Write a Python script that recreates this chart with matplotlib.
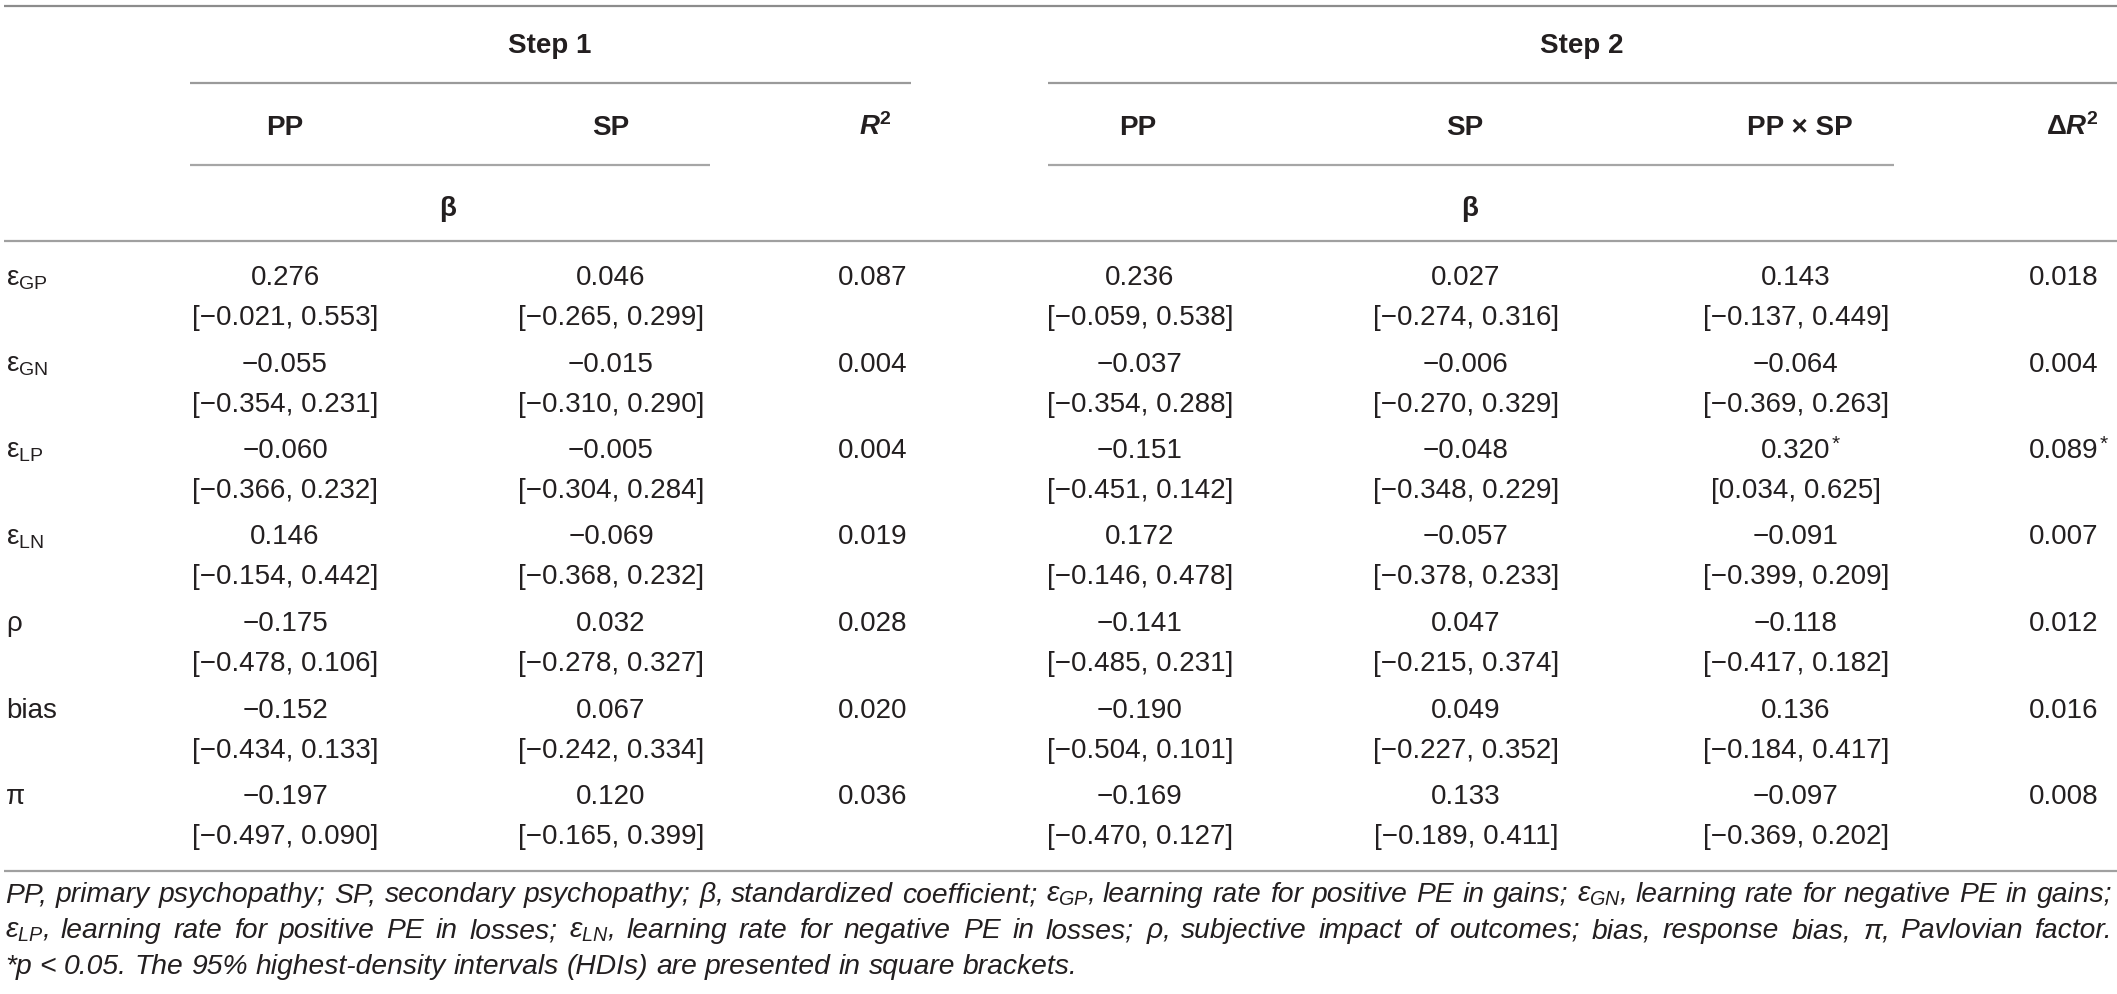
import matplotlib
matplotlib.use("Agg")
import matplotlib.pyplot as plt

plt.rcParams['font.family'] = ['Liberation Sans', 'DejaVu Sans']
plt.rcParams['mathtext.fontset'] = 'custom'
plt.rcParams['mathtext.rm'] = 'Liberation Sans'
plt.rcParams['mathtext.it'] = 'Liberation Sans:italic'
plt.rcParams['mathtext.bf'] = 'Liberation Sans:bold'
plt.rcParams['mathtext.bfit'] = 'Liberation Sans:bold:italic'
plt.rcParams['mathtext.sf'] = 'Liberation Sans'

# ---------------- data ----------------
row_labels = [r'$\mathrm{ε}_{\mathrm{GP}}$', r'$\mathrm{ε}_{\mathrm{GN}}$', r'$\mathrm{ε}_{\mathrm{LP}}$',
              r'$\mathrm{ε}_{\mathrm{LN}}$', 'ρ', 'bias', 'π']

step1_pp_beta = [0.276, -0.055, -0.060, 0.146, -0.175, -0.152, -0.197]
step1_pp_lo = [-0.021, -0.354, -0.366, -0.154, -0.478, -0.434, -0.497]
step1_pp_hi = [0.553, 0.231, 0.232, 0.442, 0.106, 0.133, 0.090]
step1_sp_beta = [0.046, -0.015, -0.005, -0.069, 0.032, 0.067, 0.120]
step1_sp_lo = [-0.265, -0.310, -0.304, -0.368, -0.278, -0.242, -0.165]
step1_sp_hi = [0.299, 0.290, 0.284, 0.232, 0.327, 0.334, 0.399]
step1_r2 = [0.087, 0.004, 0.004, 0.019, 0.028, 0.020, 0.036]

step2_pp_beta = [0.236, -0.037, -0.151, 0.172, -0.141, -0.190, -0.169]
step2_pp_lo = [-0.059, -0.354, -0.451, -0.146, -0.485, -0.504, -0.470]
step2_pp_hi = [0.538, 0.288, 0.142, 0.478, 0.231, 0.101, 0.127]
step2_sp_beta = [0.027, -0.006, -0.048, -0.057, 0.047, 0.049, 0.133]
step2_sp_lo = [-0.274, -0.270, -0.348, -0.378, -0.215, -0.227, -0.189]
step2_sp_hi = [0.316, 0.329, 0.229, 0.233, 0.374, 0.352, 0.411]
step2_int_beta = [0.143, -0.064, 0.320, -0.091, -0.118, 0.136, -0.097]
step2_int_lo = [-0.137, -0.369, 0.034, -0.399, -0.417, -0.184, -0.369]
step2_int_hi = [0.449, 0.263, 0.625, 0.209, 0.182, 0.417, 0.202]
step2_dr2 = [0.018, 0.004, 0.089, 0.007, 0.012, 0.016, 0.008]
step2_int_sig = [False, False, True, False, False, False, False]
step2_dr2_sig = [False, False, True, False, False, False, False]

step_titles = ['Step 1', 'Step 2']
step1_headers = ['PP', 'SP', r'$\mathbfit{R}^{\mathbf{2}}$']
step2_headers = ['PP', 'SP', 'PP × SP', r'$\mathbf{Δ}\mathbfit{R}^{\mathbf{2}}$']

footnote_lines = [
    ['PP,', 'primary', 'psychopathy;', 'SP,', 'secondary', 'psychopathy;', r'$β$,', 'standardized', 'coefficient;',
     r'$ε_{GP}$,', 'learning', 'rate', 'for', 'positive', 'PE', 'in', 'gains;', r'$ε_{GN}$,', 'learning', 'rate',
     'for', 'negative', 'PE', 'in', 'gains;'],
    [r'$ε_{LP}$,', 'learning', 'rate', 'for', 'positive', 'PE', 'in', 'losses;', r'$ε_{LN}$,', 'learning', 'rate',
     'for', 'negative', 'PE', 'in', 'losses;', r'$ρ$,', 'subjective', 'impact', 'of', 'outcomes;', 'bias,',
     'response', 'bias,', r'$π$,', 'Pavlovian', 'factor.'],
    ['*p', '<', '0.05.', 'The', '95%', 'highest-density', 'intervals', '(HDIs)', 'are', 'presented', 'in',
     'square', 'brackets.'],
]

# ---------------- layout ----------------
W, H = 2117, 994
fig = plt.figure(figsize=(W / 100, H / 100), dpi=100)
ax = fig.add_axes([0, 0, 1, 1])
ax.set_xlim(0, W)
ax.set_ylim(H, 0)
ax.axis('off')

TXT = '#231f20'
LINE = '#9a9a9a'
FS = 20

col_x = [285, 611, 873, 1140, 1466, 1796, 2064]
row0_val = 285
row_pitch = 86.5
bracket_dy = 40


def fmt(v):
    return f"{v:.3f}".replace('-', '\u2212')


def hline(y, x0, x1, color=LINE, lw=1.6):
    ax.plot([x0, x1], [y, y], color=color, lw=lw, solid_capstyle='butt')


hline(6, 4, W, color='#8c8c8c')
hline(83, 190, 911)
hline(83, 1048, W)
hline(165, 190, 710, color='#a6a6a6')
hline(165, 1048, 1894, color='#a6a6a6')
hline(241, 4, W, color='#a0a0a0')
hline(871, 4, W, color='#a0a0a0')

# headers
ax.text(550, 53, step_titles[0], ha='center', va='baseline', fontsize=FS, fontweight='bold', color=TXT)
ax.text(1582, 53, step_titles[1], ha='center', va='baseline', fontsize=FS, fontweight='bold', color=TXT)
hx = [285, 611, 875, 1138, 1465, 1800, 2072]
for x, lab in zip(hx, step1_headers + step2_headers):
    ax.text(x, 135, lab, ha='center', va='baseline', fontsize=FS, fontweight='bold', color=TXT)
ax.text(448, 216, 'β', ha='center', va='baseline', fontsize=FS, fontweight='bold', color=TXT)
ax.text(1470, 216, 'β', ha='center', va='baseline', fontsize=FS, fontweight='bold', color=TXT)

fig.canvas.draw()
renderer = fig.canvas.get_renderer()


def text_w(t):
    bb = t.get_window_extent(renderer=renderer)
    return bb.width


def value_cell(x, y, v, sig=False):
    t = ax.text(x, y, fmt(v), ha='center', va='baseline', fontsize=FS, color=TXT)
    if sig:
        w = text_w(t)
        ax.text(x + w / 2 + 1, y - 8, '*', ha='left', va='baseline', fontsize=FS * 0.75, color=TXT)


def bracket_cell(x, y, lo, hi):
    ax.text(x, y, f"[{fmt(lo)}, {fmt(hi)}]", ha='center', va='baseline', fontsize=FS, color=TXT)


for i in range(len(row_labels)):
    yv = row0_val + i * row_pitch
    yb = yv + bracket_dy
    ax.text(6, yv, row_labels[i], ha='left', va='baseline', fontsize=FS, color=TXT)
    value_cell(col_x[0], yv, step1_pp_beta[i]); bracket_cell(col_x[0], yb, step1_pp_lo[i], step1_pp_hi[i])
    value_cell(col_x[1], yv, step1_sp_beta[i]); bracket_cell(col_x[1], yb, step1_sp_lo[i], step1_sp_hi[i])
    value_cell(col_x[2], yv, step1_r2[i])
    value_cell(col_x[3], yv, step2_pp_beta[i]); bracket_cell(col_x[3], yb, step2_pp_lo[i], step2_pp_hi[i])
    value_cell(col_x[4], yv, step2_sp_beta[i]); bracket_cell(col_x[4], yb, step2_sp_lo[i], step2_sp_hi[i])
    value_cell(col_x[5], yv, step2_int_beta[i], step2_int_sig[i])
    bracket_cell(col_x[5], yb, step2_int_lo[i], step2_int_hi[i])
    value_cell(col_x[6], yv, step2_dr2[i], step2_dr2_sig[i])

# footnote (justified); size chosen so that the last line spans ~1072 px
fn_base = [902, 938, 974]
x0, x1 = 5, 2112
LAST_W = 1072
probe = [ax.text(0, -100, w, fontsize=16, style='italic') for w in footnote_lines[2]]
probe_w = sum(text_w(p) for p in probe) + (len(probe) - 1) * 16 * 1.389 * 0.278
for p in probe:
    p.remove()
FN_FS = 16 * LAST_W / probe_w

for li, words in enumerate(footnote_lines):
    arts = [ax.text(0, fn_base[li], w, ha='left', va='baseline', fontsize=FN_FS, style='italic', color=TXT)
            for w in words]
    widths = [text_w(a) for a in arts]
    if li < 2:
        gap = (x1 - x0 - sum(widths)) / (len(words) - 1)
    else:
        gap = FN_FS * 1.389 * 0.278
    x = x0
    for a, w in zip(arts, widths):
        a.set_x(x)
        x += w + gap

fig.savefig('out.png', dpi=100)
